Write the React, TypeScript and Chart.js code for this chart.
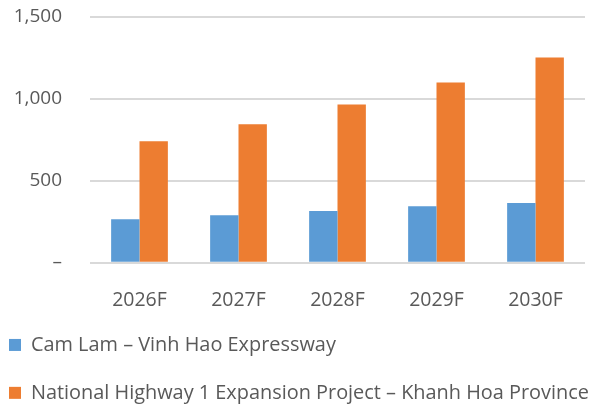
import React, { useEffect, useRef } from "react";
import { Chart, registerables } from "chart.js";

Chart.register(...registerables);

const categories = ["2026F", "2027F", "2028F", "2029F", "2030F"];
const seriesNames = [
  "Cam Lam – Vinh Hao Expressway",
  "National Highway 1 Expansion Project – Khanh Hoa Province",
];
const camLamValues = [265, 289, 315, 344, 364];
const highwayValues = [742, 846, 966, 1100, 1253];
const yTickValues = [0, 500, 1000, 1500];

const FONT = "'Open Sans', sans-serif";
const TEXT = "#595959";

export default function App() {
  const ref = useRef<HTMLCanvasElement | null>(null);

  useEffect(() => {
    if (!ref.current) return;
    const legendTweak = {
      id: "legendTweak",
      beforeInit(chart: any) {
        const legend = chart.legend;
        if (!legend) return;
        const orig = legend.fit.bind(legend);
        legend.fit = function () {
          orig();
          this.height = 81;
        };
      },
      afterLayout(chart: any) {
        const legend = chart.legend;
        if (!legend) return;
        legend.left = -19;
        legend.right = 620;
        legend.width = 639;
        legend.top = 307;
      },
    };
    const chart = new Chart(ref.current, {
      type: "bar",
      data: {
        labels: categories,
        datasets: [
          {
            label: seriesNames[0],
            data: camLamValues,
            backgroundColor: "#5B9BD5",
            barPercentage: 1,
            categoryPercentage: 0.573,
          },
          {
            label: seriesNames[1],
            data: highwayValues,
            backgroundColor: "#ED7D31",
            barPercentage: 1,
            categoryPercentage: 0.573,
          },
        ],
      },
      options: {
        responsive: false,
        animation: false,
        layout: { padding: { left: 13.5, right: 7, top: 17, bottom: 0 } },
        plugins: {
          tooltip: { enabled: false },
          legend: {
            position: "bottom",
            align: "start",
            labels: {
              boxWidth: 12,
              boxHeight: 12,
              padding: 28,
              color: TEXT,
              font: { family: FONT, size: 19.9 },
            },
          },
        },
        scales: {
          x: {
            grid: { display: false },
            border: { display: false },
            ticks: {
              color: TEXT,
              font: { family: FONT, size: 19.5 },
              padding: 18,
            },
            afterFit(axis: any) {
              axis.paddingLeft = 0;
              axis.paddingRight = 0;
              axis.height = 60.3;
            },
          },
          y: {
            min: 0,
            max: 1500,
            afterBuildTicks(axis: any) {
              axis.ticks = yTickValues.map((v) => ({ value: v }));
            },
            grid: { color: "#d9d9d9", lineWidth: 2, drawTicks: false },
            border: { display: false },
            ticks: {
              color: TEXT,
              font: { family: FONT, size: 19 },
              padding: 28,
              callback: (v: any) =>
                Number(v) === 0 ? "–" : Number(v).toLocaleString("en-US"),
            },
            afterFit(axis: any) {
              axis.paddingTop = 0;
              axis.paddingBottom = 0;
              axis.width = 76.5;
            },
          },
        },
      },
      plugins: [legendTweak],
    });
    return () => chart.destroy();
  }, []);

  return (
    <div
      style={{
        position: "fixed",
        left: 0,
        top: 0,
        width: 592,
        height: 404,
        background: "#fff",
      }}
    >
      <canvas ref={ref} width={592} height={404} />
    </div>
  );
}
